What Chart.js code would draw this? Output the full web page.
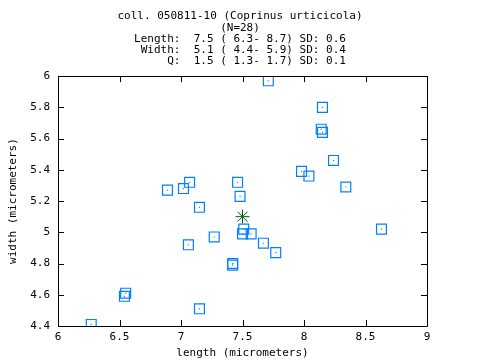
<!DOCTYPE html>
<html>
<head>
<meta charset="utf-8">
<script src="https://cdn.jsdelivr.net/npm/chart.js@4/dist/chart.umd.min.js"></script>
<style>
  body { margin: 0; background: #fff; }
  #spores { display: block; }
</style>
</head>
<body>
<canvas id="spores" width="480" height="360"></canvas>
<script>
const lengths = [7.71, 8.15, 8.14, 8.15, 8.24, 7.98, 8.04, 8.34, 6.89, 7.02,
                 7.07, 7.46, 7.48, 7.15, 7.51, 7.50, 7.57, 7.67, 7.77, 8.63,
                 7.06, 7.27, 7.42, 7.42, 6.55, 6.54, 6.27, 7.15];
const widths  = [5.97, 5.80, 5.66, 5.64, 5.46, 5.39, 5.36, 5.29, 5.27, 5.28,
                 5.32, 5.32, 5.23, 5.16, 5.02, 4.99, 4.99, 4.93, 4.87, 5.02,
                 4.92, 4.97, 4.79, 4.80, 4.61, 4.59, 4.41, 4.51];
const meanLength = [7.5];
const meanWidth = [5.1];
const xTicks = [6, 6.5, 7, 7.5, 8, 8.5, 9];
const yTicks = [4.4, 4.6, 4.8, 5, 5.2, 5.4, 5.6, 5.8, 6];
const titleLines = [
  'coll. 050811-10 (Coprinus urticicola)',
  '(N=28)',
  'Length:  7.5 ( 6.3- 8.7) SD: 0.6',
  ' Width:  5.1 ( 4.4- 5.9) SD: 0.4',
  '     Q:  1.5 ( 1.3- 1.7) SD: 0.1'
];

const mono = { family: '"DejaVu Sans Mono", "Liberation Mono", monospace', size: 11 };
const blue = 'rgb(0,128,255)';
const fmt = v => String(+Number(v).toFixed(1));

const points = lengths.map((x, i) => ({ x, y: widths[i] }));
const mean = meanLength.map((x, i) => ({ x, y: meanWidth[i] }));

// gnuplot style frame with inward ticks on all four sides
const frame = {
  id: 'frame',
  afterDatasetsDraw(chart) {
    const { ctx, chartArea: a, scales } = chart;
    ctx.save();
    ctx.strokeStyle = '#000';
    ctx.lineWidth = 1;
    ctx.beginPath();
    ctx.rect(Math.round(a.left) + 0.5, Math.round(a.top) + 0.5,
             Math.round(a.right - a.left), Math.round(a.bottom - a.top));
    xTicks.forEach(v => {
      const px = Math.round(scales.x.getPixelForValue(v)) + 0.5;
      ctx.moveTo(px, a.bottom); ctx.lineTo(px, a.bottom - 6);
      ctx.moveTo(px, a.top); ctx.lineTo(px, a.top + 6);
    });
    yTicks.forEach(v => {
      const py = Math.round(scales.y.getPixelForValue(v)) + 0.5;
      ctx.moveTo(a.left, py); ctx.lineTo(a.left + 6, py);
      ctx.moveTo(a.right, py); ctx.lineTo(a.right - 6, py);
    });
    ctx.stroke();
    ctx.restore();
  }
};

new Chart(document.getElementById('spores'), {
  type: 'scatter',
  data: {
    datasets: [
      {
        data: points,
        pointStyle: 'rect',
        pointRadius: 7,
        borderColor: blue,
        borderWidth: 1.2,
        backgroundColor: 'rgba(0,0,0,0)'
      },
      {
        data: points,
        pointStyle: 'rect',
        pointRadius: 0.8,
        borderWidth: 0,
        backgroundColor: blue
      },
      {
        data: mean,
        pointStyle: 'star',
        pointRadius: 7,
        borderColor: 'rgb(0,100,0)',
        borderWidth: 1,
        backgroundColor: 'rgb(0,100,0)'
      }
    ]
  },
  options: {
    responsive: false,
    animation: false,
    events: [],
    layout: { padding: 0 },
    plugins: {
      legend: { display: false },
      tooltip: { enabled: false },
      title: {
        display: true,
        text: titleLines,
        color: '#000',
        font: { ...mono, weight: 'normal', lineHeight: 1.02 },
        padding: { top: 11, bottom: 9 }
      }
    },
    scales: {
      x: {
        type: 'linear',
        min: 6,
        max: 9,
        afterBuildTicks: s => { s.ticks = xTicks.map(value => ({ value })); },
        afterFit: s => { s.height = 34; },
        grid: { display: false, drawTicks: false },
        border: { display: false },
        ticks: { color: '#000', font: mono, padding: 5, maxRotation: 0, callback: fmt },
        title: { display: true, text: 'length (micrometers)', color: '#000', font: mono, padding: { top: 4, bottom: 0 } }
      },
      y: {
        type: 'linear',
        min: 4.4,
        max: 6,
        afterBuildTicks: s => { s.ticks = yTicks.map(value => ({ value })); },
        afterFit: s => { s.width = 58; },
        grid: { display: false, drawTicks: false },
        border: { display: false },
        ticks: { color: '#000', font: mono, padding: 8, callback: fmt },
        title: { display: true, text: 'width (micrometers)', color: '#000', font: mono, padding: { top: 7, bottom: 4 } }
      },
      // empty right margin so the title centres on the whole canvas
      right: {
        type: 'linear',
        position: 'right',
        afterFit: s => { s.width = 53; },
        grid: { display: false, drawTicks: false },
        border: { display: false },
        ticks: { display: false }
      }
    }
  },
  plugins: [frame]
});
</script>
</body>
</html>
